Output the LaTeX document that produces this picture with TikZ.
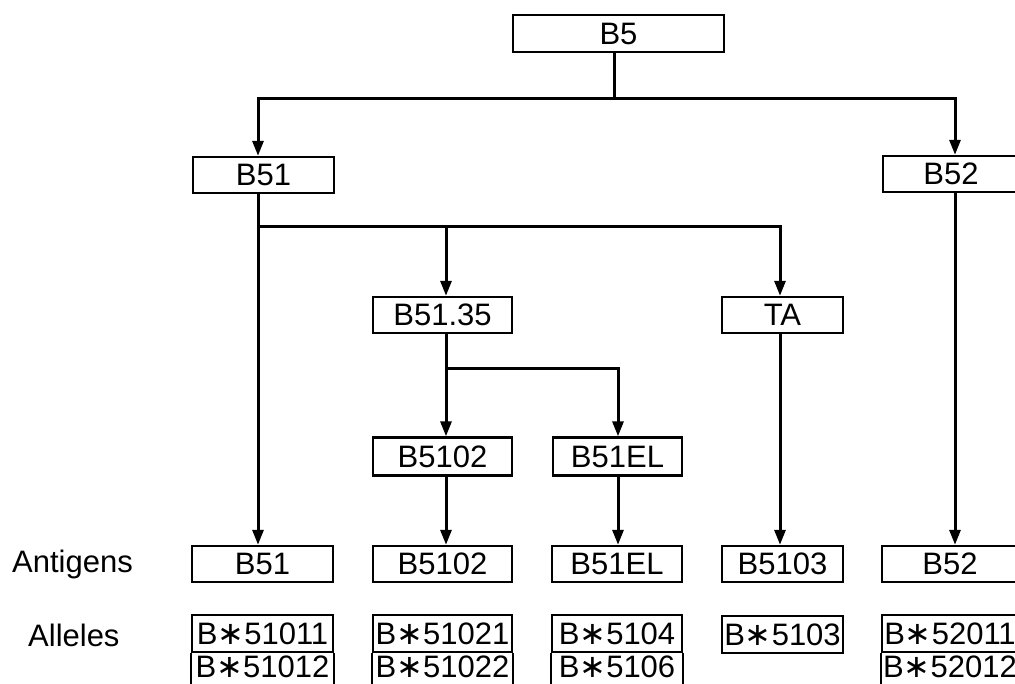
\documentclass[tikz,border=0pt]{standalone}
\usepackage{fontspec}
\setmainfont{Liberation Sans}
\newfontfamily\dvfont{DejaVu Sans}
\usetikzlibrary{arrows.meta}
\newcommand{\astk}{{\dvfont\fontsize{32}{36}\selectfont ∗}}
\begin{document}
\begin{tikzpicture}[x=1pt,y=1pt,
  box/.style={draw,line width=2.4pt,rectangle,inner sep=0pt,minimum height=36pt,font=\fontsize{31}{36}\selectfont},
  openbox/.style={rectangle,inner sep=0pt,minimum height=30pt,font=\fontsize{31}{36}\selectfont},
  side/.style={line width=2.4pt},
  lbl/.style={inner sep=0pt,font=\fontsize{31}{36}\selectfont},
  conn/.style={line width=3pt},
  arr/.style={line width=3pt,-{Triangle[width=11pt,length=15pt]}}]
\useasboundingbox (0,0) rectangle (1015,-684);
\clip (0,0) rectangle (1015,-684);
% level 0/1
\node[box,minimum width=211pt,minimum height=37pt] (b5) at (618.5,-33.5) {B5};
\node[box,minimum width=141pt] (b51t) at (263.5,-175) {B51};
\node[box,minimum width=136pt] (b52t) at (951,-174) {B52};
% level 2
\node[box,minimum width=139pt] (b5135) at (442.5,-315) {B51.35};
\node[box,minimum width=121pt] (ta) at (782.5,-315) {TA};
% level 3
\node[box,minimum width=139pt,minimum height=38pt] (b5102m) at (442.5,-456.5) {B5102};
\node[box,minimum width=129pt,minimum height=38pt] (b51elm) at (617.5,-456.5) {B51EL};
% antigens
\node[box,minimum width=141pt] (b51b) at (262.5,-564) {B51};
\node[box,minimum width=139pt] (b5102b) at (442.5,-564) {B5102};
\node[box,minimum width=130pt] (b51elb) at (617,-564) {B51EL};
\node[box,minimum width=121pt] (b5103b) at (782.5,-564) {B5103};
\node[box,minimum width=136pt] (b52b) at (950,-564) {B52};
% alleles
\node[box,minimum width=141pt,minimum height=37pt] (a1) at (262.5,-633.5) {B\astk51011};
\node[openbox,minimum width=141pt] (a2) at (262.5,-667) {B\astk51012};
\node[box,minimum width=139pt,minimum height=37pt] (a3) at (442.5,-633.5) {B\astk51021};
\node[openbox,minimum width=139pt] (a4) at (442.5,-667) {B\astk51022};
\node[box,minimum width=130pt,minimum height=37pt] (a5) at (617,-633.5) {B\astk5104};
\node[openbox,minimum width=130pt] (a6) at (617,-667) {B\astk5106};
\node[box,minimum width=121pt,minimum height=37pt] (a7) at (782.5,-634.5) {B\astk5103};
\node[box,minimum width=136pt,minimum height=37pt] (a8) at (950,-633.5) {B\astk52011};
\node[openbox,minimum width=136pt] (a9) at (950,-667) {B\astk52012};
\foreach \n in {a1,a3,a5,a8}{
  \draw[side] (\n.south west) -- ++(0,-40);
  \draw[side] (\n.south east) -- ++(0,-40);
}
% labels
\node[lbl,anchor=west] (antl) at (12,-564) {Antigens};
\node[lbl,anchor=west] (alll) at (28,-635) {Alleles};
% connector x positions
\coordinate (x5) at (614,0);
\coordinate (x51) at (258,0);
\coordinate (x52) at (955,0);
\coordinate (x5135) at (446,0);
\coordinate (xta) at (780,0);
\coordinate (xel) at (618,0);
\coordinate (j1) at (614,-99);
\coordinate (j2) at (258,-227);
\coordinate (j3) at (446,-369);
% connectors
\draw[conn] (b5.south -| x5) -- (j1);
\draw[arr] (j1) -| (b51t.north -| x51);
\draw[arr] (j1) -| (b52t.north -| x52);
\draw[arr] (b51t.south -| x51) -- (b51b.north -| x51);
\draw[arr] (j2) -| (b5135.north -| x5135);
\draw[arr] (j2) -| (ta.north -| xta);
\draw[arr] (b5135.south -| x5135) -- (b5102m.north -| x5135);
\draw[arr] (j3) -| (b51elm.north -| xel);
\draw[arr] (b5102m.south -| x5135) -- (b5102b.north -| x5135);
\draw[arr] (b51elm.south -| xel) -- (b51elb.north -| xel);
\draw[arr] (ta.south -| xta) -- (b5103b.north -| xta);
\draw[arr] (b52t.south -| x52) -- (b52b.north -| x52);
\end{tikzpicture}
\end{document}
